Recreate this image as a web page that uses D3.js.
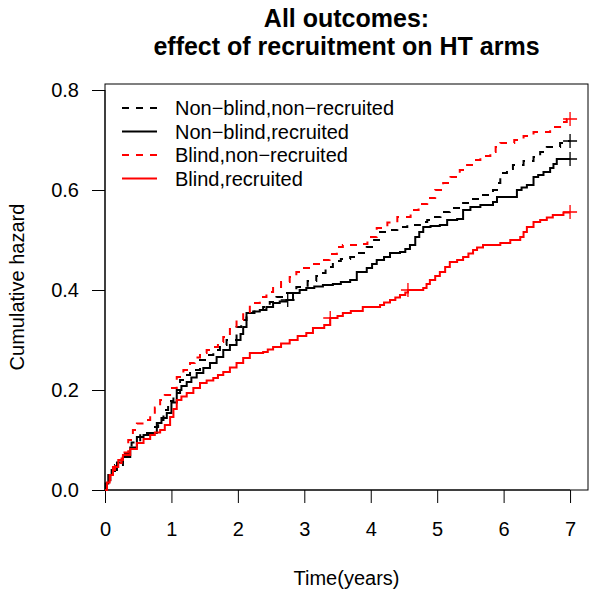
<!DOCTYPE html>
<html><head><meta charset="utf-8">
<script src="https://cdn.jsdelivr.net/npm/d3@7"></script>
<style>body{margin:0;background:#fff}svg{display:block;font-family:"Liberation Sans",Arial,sans-serif}</style>
</head><body><svg id="c" width="600" height="602"></svg>
<script>
const titleLines = ["All outcomes:", "effect of recruitment on HT arms"];
const xLabel = "Time(years)";
const yLabel = "Cumulative hazard";
const xTicks = [0,1,2,3,4,5,6,7];
const yTicks = [0.0,0.2,0.4,0.6,0.8];
const seriesNames = ["Non\u2212blind,non\u2212recruited","Non\u2212blind,recruited","Blind,non\u2212recruited","Blind,recruited"];
const seriesColors = ["#000","#000","#ff0000","#ff0000"];
const seriesDashed = [true,false,true,false];

const nonBlindNonRecruited = [[0,0],[0.02,0.015],[0.08,0.034],[0.15,0.05],[0.27,0.074],[0.4,0.095],[0.53,0.114],[0.72,0.126],[0.8,0.14],[0.88,0.16],[0.95,0.178],[1.03,0.194],[1.13,0.22],[1.2,0.23],[1.28,0.24],[1.43,0.26],[1.53,0.27],[1.63,0.28],[1.73,0.29],[1.83,0.30],[1.98,0.326],[2.05,0.34],[2.13,0.354],[2.25,0.36],[2.38,0.366],[2.48,0.376],[2.58,0.386],[2.7,0.394],[2.88,0.406],[3.05,0.418],[3.18,0.428],[3.24,0.434],[3.32,0.446],[3.43,0.458],[3.55,0.462],[3.69,0.466],[3.8,0.474],[3.94,0.486],[4.05,0.5],[4.14,0.516],[4.27,0.52],[4.4,0.526],[4.55,0.53],[4.74,0.536],[4.85,0.54],[4.94,0.546],[5.05,0.556],[5.19,0.564],[5.39,0.574],[5.52,0.582],[5.65,0.59],[5.84,0.60],[5.9,0.614],[5.95,0.634],[6.05,0.642],[6.14,0.65],[6.3,0.658],[6.45,0.666],[6.55,0.676],[6.65,0.686],[6.85,0.694],[6.95,0.698],[7.0,0.698]];
const nonBlindRecruited = [[0,0],[0.01,0.013],[0.05,0.03],[0.1,0.04],[0.18,0.055],[0.27,0.066],[0.38,0.085],[0.48,0.106],[0.58,0.11],[0.68,0.114],[0.78,0.134],[0.85,0.144],[0.93,0.154],[1.0,0.175],[1.08,0.2],[1.15,0.208],[1.23,0.216],[1.3,0.225],[1.38,0.234],[1.48,0.244],[1.58,0.254],[1.68,0.266],[1.78,0.28],[1.88,0.29],[1.98,0.30],[2.04,0.312],[2.08,0.326],[2.13,0.354],[2.23,0.357],[2.33,0.36],[2.43,0.366],[2.53,0.374],[2.63,0.377],[2.73,0.38],[2.83,0.394],[2.93,0.4],[3.03,0.404],[3.15,0.407],[3.28,0.41],[3.43,0.412],[3.55,0.416],[3.69,0.42],[3.79,0.436],[3.94,0.444],[4.02,0.452],[4.09,0.46],[4.2,0.466],[4.29,0.474],[4.44,0.476],[4.52,0.482],[4.59,0.49],[4.67,0.506],[4.73,0.516],[4.79,0.526],[4.9,0.528],[5.04,0.53],[5.15,0.54],[5.3,0.542],[5.39,0.56],[5.5,0.566],[5.65,0.57],[5.84,0.576],[5.9,0.586],[6.2,0.6],[6.27,0.605],[6.35,0.61],[6.45,0.626],[6.52,0.63],[6.6,0.636],[6.7,0.644],[6.75,0.652],[6.8,0.662],[7.0,0.662]];
const blindNonRecruited = [[0,0],[0.03,0.02],[0.08,0.04],[0.15,0.054],[0.25,0.075],[0.35,0.1],[0.42,0.12],[0.48,0.133],[0.58,0.14],[0.68,0.15],[0.75,0.165],[0.83,0.18],[0.9,0.19],[0.98,0.204],[1.08,0.226],[1.18,0.24],[1.28,0.254],[1.35,0.265],[1.43,0.274],[1.53,0.28],[1.63,0.286],[1.7,0.296],[1.78,0.306],[1.88,0.322],[1.98,0.34],[2.08,0.356],[2.18,0.374],[2.33,0.386],[2.43,0.396],[2.53,0.406],[2.65,0.416],[2.78,0.426],[2.88,0.436],[2.98,0.444],[3.13,0.452],[3.28,0.46],[3.38,0.472],[3.49,0.486],[3.58,0.49],[3.85,0.492],[3.95,0.506],[4.09,0.524],[4.25,0.535],[4.4,0.546],[4.6,0.56],[4.72,0.572],[4.85,0.584],[4.97,0.6],[5.09,0.614],[5.2,0.626],[5.34,0.64],[5.45,0.65],[5.54,0.66],[5.65,0.668],[5.8,0.676],[5.88,0.686],[5.95,0.694],[6.16,0.70],[6.3,0.708],[6.45,0.716],[6.7,0.726],[6.85,0.736],[6.95,0.742],[7.0,0.742]];
const blindRecruited = [[0,0],[0.03,0.015],[0.07,0.03],[0.12,0.046],[0.2,0.06],[0.27,0.07],[0.38,0.082],[0.48,0.094],[0.58,0.102],[0.68,0.11],[0.75,0.115],[0.83,0.12],[0.9,0.13],[0.98,0.146],[1.03,0.162],[1.08,0.18],[1.15,0.187],[1.23,0.194],[1.33,0.204],[1.43,0.214],[1.53,0.219],[1.63,0.224],[1.7,0.23],[1.78,0.236],[1.88,0.245],[1.98,0.254],[2.08,0.264],[2.18,0.274],[2.38,0.276],[2.45,0.281],[2.53,0.286],[2.65,0.293],[2.78,0.30],[2.9,0.308],[3.03,0.314],[3.13,0.324],[3.3,0.33],[3.39,0.344],[3.5,0.348],[3.58,0.354],[3.7,0.358],[3.88,0.366],[4.14,0.37],[4.2,0.375],[4.29,0.38],[4.37,0.385],[4.44,0.39],[4.52,0.395],[4.56,0.40],[4.79,0.404],[4.84,0.412],[4.89,0.42],[4.97,0.428],[5.04,0.436],[5.12,0.446],[5.19,0.456],[5.3,0.46],[5.39,0.466],[5.47,0.473],[5.54,0.48],[5.6,0.485],[5.69,0.49],[5.95,0.494],[6.1,0.50],[6.25,0.506],[6.3,0.516],[6.35,0.526],[6.45,0.536],[6.55,0.54],[6.65,0.545],[6.74,0.55],[6.9,0.555],[7.0,0.555]];

const censorNonBlindNonRecruited = [[7.0,0.698]];
const censorNonBlindRecruited = [[2.75,0.38],[7.0,0.662]];
const censorBlindNonRecruited = [[7.0,0.742]];
const censorBlindRecruited = [[3.39,0.344],[4.56,0.40],[7.0,0.556]];

const seriesData = [nonBlindNonRecruited, nonBlindRecruited, blindNonRecruited, blindRecruited];
const censorData = [censorNonBlindNonRecruited, censorNonBlindRecruited, censorBlindNonRecruited, censorBlindRecruited];

const L = 105, R = 588, T = 84, B = 490;
const x = d3.scaleLinear().domain([0, 7.27]).range([L, R]);
const y = d3.scaleLinear().domain([0, 0.812]).range([B, T]);
const svg = d3.select("#c");

// title
svg.append("g").selectAll("text").data(titleLines).join("text")
  .attr("x", (L + R) / 2).attr("y", (d, i) => 27 + i * 28)
  .attr("text-anchor", "middle").attr("font-size", 25).attr("font-weight", "bold")
  .text(d => d);

// box
svg.append("rect").attr("x", L).attr("y", T).attr("width", R - L).attr("height", B - T)
  .attr("fill", "none").attr("stroke", "#000").attr("stroke-width", 1);

// axes
const xAxis = d3.axisBottom(x).tickValues(xTicks).tickFormat(d3.format("d")).tickSize(13).tickPadding(19);
const gx = svg.append("g").attr("transform", `translate(0,${B})`).call(xAxis);
gx.select(".domain").attr("d", `M${x(0)},0H${x(7)}`);
const yAxis = d3.axisLeft(y).tickValues(yTicks).tickFormat(d3.format(".1f")).tickSize(13).tickPadding(13);
const gy = svg.append("g").attr("transform", `translate(${L},0)`).call(yAxis);
gy.select(".domain").attr("d", `M0,${y(0)}V${y(0.8)}`);
[gx, gy].forEach(g => {
  g.selectAll("text").attr("font-size", 20).attr("fill", "#000").attr("font-family", "'Liberation Sans',Arial,sans-serif");
  g.selectAll("line,path").attr("stroke", "#000");
});

// axis labels
svg.append("text").attr("x", (L + R) / 2).attr("y", 585).attr("text-anchor", "middle")
  .attr("font-size", 20).text(xLabel);
svg.append("text").attr("transform", `translate(24,${(T + B) / 2}) rotate(-90)`)
  .attr("text-anchor", "middle").attr("font-size", 20).text(yLabel);

// curves
const line = d3.line().x(d => x(d[0])).y(d => y(d[1])).curve(d3.curveStepAfter);
seriesData.forEach((s, i) => {
  svg.append("path").datum(s).attr("d", line).attr("fill", "none")
    .attr("stroke", seriesColors[i]).attr("stroke-width", 2)
    .attr("stroke-dasharray", seriesDashed[i] ? "7,7" : null);
});
censorData.forEach((c, i) => {
  const g = svg.append("g").attr("stroke", seriesColors[i]).attr("stroke-width", 1.3);
  g.selectAll("path").data(c).join("path")
    .attr("d", d => `M${x(d[0]) - 7},${y(d[1])}h14M${x(d[0])},${y(d[1]) - 7}v14`);
});

// legend
const lg = svg.append("g");
seriesNames.forEach((n, i) => {
  const yy = 108 + i * 23.5;
  lg.append("line").attr("x1", 122).attr("x2", 157).attr("y1", yy).attr("y2", yy)
    .attr("stroke", seriesColors[i]).attr("stroke-width", 2)
    .attr("stroke-dasharray", seriesDashed[i] ? "7,7" : null);
  lg.append("text").attr("x", 175).attr("y", yy).attr("dy", "0.35em")
    .attr("font-size", 20).text(n);
});
</script></body></html>
